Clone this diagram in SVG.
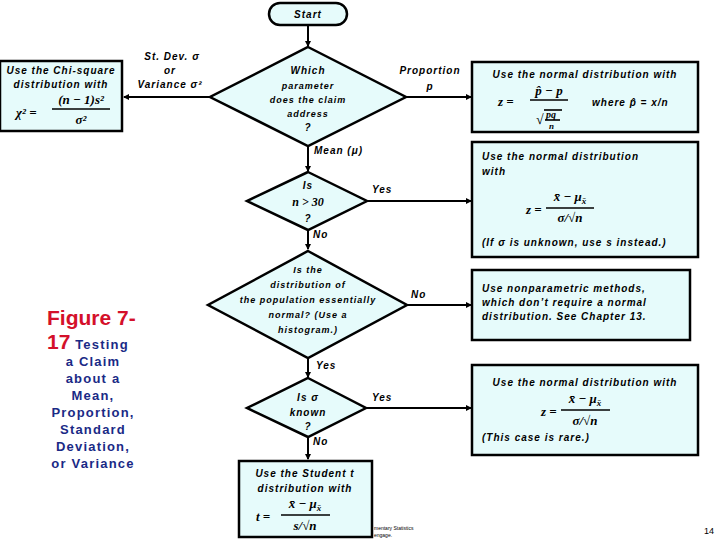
<svg xmlns="http://www.w3.org/2000/svg" width="720" height="540" viewBox="0 0 720 540">
<defs>
<style>
.box{fill:#e6fbfb;stroke:#000;stroke-width:2.5}
.ln{stroke:#000;stroke-width:2;fill:none}
.fl{stroke:#000;stroke-width:1.6}
.t{font-family:"Liberation Sans",Arial,sans-serif;font-weight:bold;font-style:italic;font-size:10px;fill:#000;letter-spacing:1px}
.m{font-family:"Liberation Serif","Times New Roman",serif;font-weight:bold;font-style:italic;font-size:13px;fill:#000}
.c{text-anchor:middle}
.sub{font-size:9px}
.cap{font-family:"Liberation Sans",Arial,sans-serif;font-weight:bold;font-size:13px;fill:#1a2a86;text-anchor:middle;letter-spacing:1.2px}
.red{font-family:"Liberation Sans",Arial,sans-serif;font-weight:bold;font-size:21px;fill:#d4102a}
</style>
<marker id="ah" markerWidth="6" markerHeight="6" refX="5" refY="3" orient="auto" markerUnits="userSpaceOnUse">
<path d="M0,0 L6,3 L0,6 z" fill="#000"/>
</marker>
</defs>
<rect width="720" height="540" fill="#fff"/>

<g id="connectors">
<line class="ln" x1="308" y1="25" x2="308" y2="46" marker-end="url(#ah)"/>
<line class="ln" x1="210" y1="97" x2="124" y2="97" marker-end="url(#ah)"/>
<line class="ln" x1="406" y1="97" x2="471" y2="97" marker-end="url(#ah)"/>
<line class="ln" x1="308" y1="146" x2="308" y2="171" marker-end="url(#ah)"/>
<line class="ln" x1="367" y1="201" x2="471" y2="201" marker-end="url(#ah)"/>
<line class="ln" x1="308" y1="230" x2="308" y2="249" marker-end="url(#ah)"/>
<line class="ln" x1="407" y1="305" x2="471" y2="305" marker-end="url(#ah)"/>
<line class="ln" x1="308" y1="358" x2="308" y2="377" marker-end="url(#ah)"/>
<line class="ln" x1="366" y1="408" x2="471" y2="408" marker-end="url(#ah)"/>
<line class="ln" x1="308" y1="437" x2="308" y2="459" marker-end="url(#ah)"/>
<text class="t c" x="172" y="60">St. Dev. σ</text>
<text class="t c" x="170" y="74">or</text>
<text class="t c" x="170" y="88">Variance σ²</text>
<text class="t c" x="430" y="74">Proportion</text>
<text class="t c" x="430" y="90">p</text>
<text class="t" x="314" y="154">Mean (μ)</text>
<text class="t" x="372" y="193">Yes</text>
<text class="t" x="313" y="238">No</text>
<text class="t" x="411" y="298">No</text>
<text class="t" x="316" y="369">Yes</text>
<text class="t" x="372" y="401">Yes</text>
<text class="t" x="313" y="445">No</text>
</g>

<g id="start">
<rect class="box" x="269" y="3" width="78" height="22" rx="11"/>
<text class="t c" x="308" y="18">Start</text>
</g>

<g id="d1">
<polygon class="box" points="308,47 406,97 308,146 210,97"/>
<text class="t c" x="308" y="74">Which</text>
<text class="t c" x="308" y="89" style="font-size:9px">parameter</text>
<text class="t c" x="308" y="103" style="font-size:9px">does the claim</text>
<text class="t c" x="308" y="117" style="font-size:9px">address</text>
<text class="t c" x="308" y="131">?</text>
</g>

<g id="chi">
<rect class="box" x="0" y="61" width="122" height="70"/>
<text class="t c" x="61" y="74">Use the Chi-square</text>
<text class="t c" x="61" y="88">distribution with</text>
<text class="m" x="16" y="117">χ² =</text>
<text class="m c" x="81" y="104">(n − 1)s²</text>
<line class="fl" x1="52" y1="109" x2="110" y2="109"/>
<text class="m c" x="81" y="124">σ²</text>
</g>

<g id="prop">
<rect class="box" x="472" y="62" width="226" height="70"/>
<text class="t c" x="585" y="78">Use the normal distribution with</text>
<text class="m" x="498" y="106">z =</text>
<text class="m c" x="549" y="95">p̂ − p</text>
<line class="fl" x1="530" y1="100" x2="568" y2="100"/>
<text class="m" x="536" y="124" style="font-size:14px;font-style:normal">√</text>
<line class="fl" x1="544" y1="110" x2="562" y2="110"/>
<text class="m" x="546" y="118" style="font-size:10px">pq</text>
<line class="fl" x1="545" y1="120" x2="560" y2="120"/>
<text class="m" x="549" y="129" style="font-size:9px">n</text>
<text class="t" x="592" y="106">where p̂ = x/n</text>
</g>

<g id="d2">
<polygon class="box" points="308,172 367,201 308,230 247,201"/>
<text class="t c" x="308" y="189">Is</text>
<text class="m c" x="308" y="206" style="font-size:12px">n &gt; 30</text>
<text class="t c" x="308" y="222">?</text>
</g>

<g id="zbox">
<rect class="box" x="472" y="142" width="226" height="115"/>
<text class="t" x="482" y="160">Use the normal distribution</text>
<text class="t" x="482" y="175">with</text>
<text class="m" x="526" y="214">z =</text>
<text class="m c" x="570" y="201">x̄ − μ<tspan class="sub" dy="3">x̄</tspan></text>
<line class="fl" x1="546" y1="208" x2="594" y2="208"/>
<text class="m c" x="570" y="222">σ/√n</text>
<text class="t" x="482" y="246">(If σ is unknown, use s instead.)</text>
</g>

<g id="d3">
<polygon class="box" points="308,251 407,305 308,358 208,305"/>
<text class="t c" x="308" y="273" style="font-size:9px">Is the</text>
<text class="t c" x="308" y="288" style="font-size:9px">distribution of</text>
<text class="t c" x="308" y="303" style="font-size:9px">the population essentially</text>
<text class="t c" x="308" y="318" style="font-size:9px">normal? (Use a</text>
<text class="t c" x="308" y="333" style="font-size:9px">histogram.)</text>
</g>

<g id="nonpar">
<rect class="box" x="472" y="270" width="218" height="70"/>
<text class="t" x="482" y="292">Use nonparametric methods,</text>
<text class="t" x="482" y="306">which don’t require a normal</text>
<text class="t" x="482" y="320">distribution. See Chapter 13.</text>
</g>

<g id="d4">
<polygon class="box" points="308,378 366,408 308,437 247,408"/>
<text class="t c" x="308" y="401">Is σ</text>
<text class="t c" x="308" y="416">known</text>
<text class="t c" x="308" y="430">?</text>
</g>

<g id="zknown">
<rect class="box" x="472" y="365" width="226" height="90"/>
<text class="t c" x="585" y="386">Use the normal distribution with</text>
<text class="m" x="541" y="416">z =</text>
<text class="m c" x="585" y="403">x̄ − μ<tspan class="sub" dy="3">x̄</tspan></text>
<line class="fl" x1="561" y1="410" x2="610" y2="410"/>
<text class="m c" x="585" y="425">σ/√n</text>
<text class="t" x="482" y="441">(This case is rare.)</text>
</g>

<g id="tbox">
<rect class="box" x="239" y="461" width="133" height="76"/>
<text class="t c" x="305" y="477">Use the Student t</text>
<text class="t c" x="305" y="492">distribution with</text>
<text class="m" x="256" y="521">t =</text>
<text class="m c" x="305" y="508">x̄ − μ<tspan class="sub" dy="3">x̄</tspan></text>
<line class="fl" x1="281" y1="515" x2="330" y2="515"/>
<text class="m c" x="305" y="530">s/√n</text>
</g>

<g id="caption">
<text class="red" x="47" y="325">Figure 7-</text>
<text x="47" y="349"><tspan class="red">17</tspan><tspan style="font-family:'Liberation Sans',Arial,sans-serif;font-weight:bold;font-size:13px;fill:#1a2a86;letter-spacing:1.2px"> Testing</tspan></text>
<text class="cap" x="93" y="366">a Claim</text>
<text class="cap" x="93" y="383">about a</text>
<text class="cap" x="93" y="400">Mean,</text>
<text class="cap" x="93" y="417">Proportion,</text>
<text class="cap" x="93" y="434">Standard</text>
<text class="cap" x="93" y="451">Deviation,</text>
<text class="cap" x="93" y="468">or Variance</text>
</g>

<g id="footer">
<text x="374" y="530" style="font-family:'Liberation Sans',Arial,sans-serif;font-size:5px;fill:#000">mentary Statistics</text>
<text x="374" y="537" style="font-family:'Liberation Sans',Arial,sans-serif;font-size:5px;fill:#000">engage.</text>
<text x="704" y="534" style="font-family:'Liberation Sans',Arial,sans-serif;font-size:9px;fill:#000">14</text>
</g>
</svg>
